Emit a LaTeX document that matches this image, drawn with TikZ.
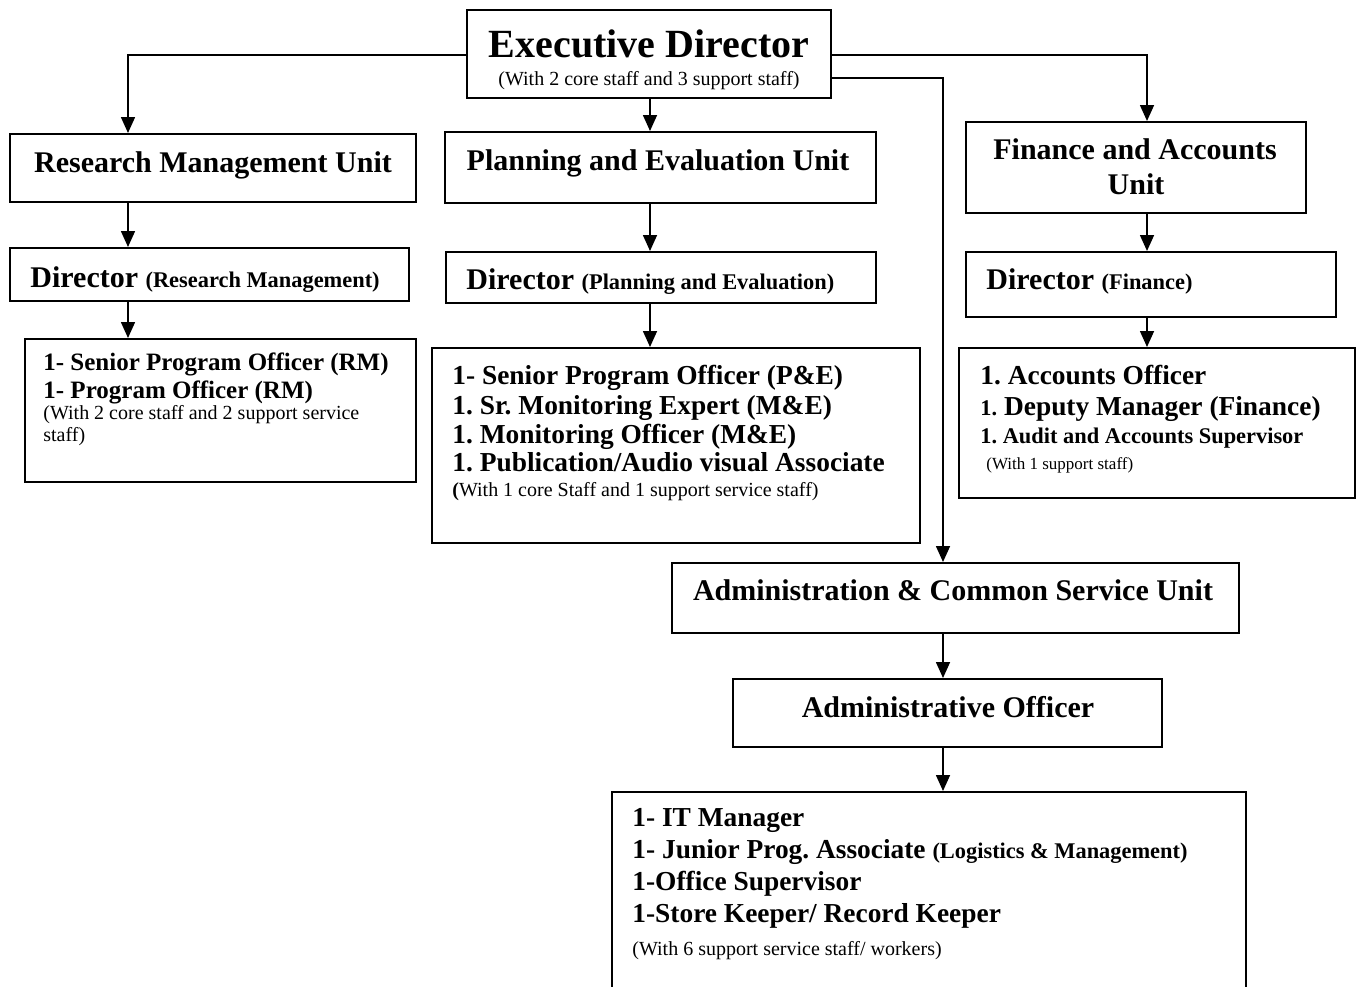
\documentclass[tikz,border=0pt]{standalone}
\usepackage{fontspec}
\setmainfont{Liberation Serif}
\usetikzlibrary{arrows.meta,fit}
\frenchspacing

\newcommand{\fsed}{\fontsize{20}{24}\selectfont\bfseries}
\newcommand{\fsunit}{\fontsize{15}{18}\selectfont\bfseries}
\newcommand{\fspar}{\fontsize{11.2}{13}\selectfont\bfseries}
\newcommand{\fsnote}{\fontsize{10}{12}\selectfont\mdseries}
\newcommand{\fsrm}{\fontsize{12.5}{15}\selectfont\bfseries}
\newcommand{\fsstaff}{\fontsize{13.7}{16}\selectfont\bfseries}
\newcommand{\fssmall}{\fontsize{8.5}{10}\selectfont\mdseries}

\tikzset{
  box/.style={draw, line width=1pt, inner sep=0pt},
  txt/.style={inner sep=0pt, anchor=base west},
  ctxt/.style={inner sep=0pt, anchor=base},
  link/.style={draw, line width=0.8pt, -{Triangle[length=8pt,width=7pt]}}
}

\begin{document}
\begin{tikzpicture}[x=0.5pt,y=-0.5pt]
\useasboundingbox (0,0) rectangle (1363,986);
\clip (0,0) rectangle (1363,986);

% boxes
\node[box, fit={(467,10) (831,98)}] (ED) {};
\node[box, fit={(10,134) (416,202)}] (RMU) {};
\node[box, fit={(445,132) (876,203)}] (PEU) {};
\node[box, fit={(966,122) (1306,213)}] (FAU) {};
\node[box, fit={(10,248) (409,301)}] (DRM) {};
\node[box, fit={(446,252) (876,303)}] (DPE) {};
\node[box, fit={(966,252) (1336,317)}] (DF) {};
\node[box, fit={(25,339) (416,482)}] (SRM) {};
\node[box, fit={(432,348) (920,543)}] (SPE) {};
\node[box, fit={(959,348) (1355,498)}] (SF) {};
\node[box, fit={(672,563) (1239,633)}] (ACS) {};
\node[box, fit={(733,679) (1162,747)}] (AO) {};
\node[box, fit={(612,792) (1246,1010)}] (SAD) {};

% texts
\node[ctxt, font=\fsed] (EDa) at (649,57) {Executive Director};
\node[ctxt, font=\fsnote] (EDb) at (649,85) {(With 2 core staff and 3 support staff)};
\node[ctxt, font=\fsunit] (RMUa) at (213,172) {Research Management Unit};
\node[ctxt, font=\fsunit] (PEUa) at (658,170) {Planning and Evaluation Unit};
\node[ctxt, font=\fsunit] (FAUa) at (1135,159) {Finance and Accounts};
\node[ctxt, font=\fsunit] (FAUb) at (1136,194) {Unit};
\node[txt, font=\fsunit] (DRMa) at (30,287) {Director {\fspar(Research Management)}};
\node[txt, font=\fsunit] (DPEa) at (466,289) {Director {\fspar(Planning and Evaluation)}};
\node[txt, font=\fsunit] (DFa) at (986,289) {Director {\fspar(Finance)}};

\node[txt, font=\fsrm] (SRMa) at (43,370) {1- Senior Program Officer (RM)};
\node[txt, font=\fsrm] (SRMb) at (43,398) {1- Program Officer (RM)};
\node[txt, font=\fsnote] (SRMc) at (43,419) {(With 2 core staff and 2 support service};
\node[txt, font=\fsnote] (SRMd) at (43,441) {staff)};

\node[txt, font=\fsstaff] (SPEa) at (452,384) {1- Senior Program Officer (P\&E)};
\node[txt, font=\fsstaff] (SPEb) at (452,414) {1. Sr. Monitoring Expert (M\&E)};
\node[txt, font=\fsstaff] (SPEc) at (452,443) {1. Monitoring Officer (M\&E)};
\node[txt, font=\fsstaff] (SPEd) at (452,471) {1. Publication/Audio visual Associate};
\node[txt, font=\fsnote] (SPEe) at (452,496) {{\bfseries(}With 1 core Staff and 1 support service staff)};

\node[txt, font=\fsstaff] (SFa) at (980,384) {1. Accounts Officer};
\node[txt, font=\fsstaff] (SFb) at (980,415) {{\fspar 1.} Deputy Manager (Finance)};
\node[txt, font=\fspar] (SFc) at (980,443) {1. Audit and Accounts Supervisor};
\node[txt, font=\fssmall] (SFd) at (986,469) {(With 1 support staff)};

\node[ctxt, font=\fsunit] (ACSa) at (953,600) {Administration \& Common Service Unit};
\node[ctxt, font=\fsunit] (AOa) at (948,717) {Administrative Officer};

\node[txt, font=\fsstaff] (SADa) at (632,826) {1- IT Manager};
\node[txt, font=\fsstaff] (SADb) at (632,858) {1- Junior Prog. Associate {\fspar(Logistics \& Management)}};
\node[txt, font=\fsstaff] (SADc) at (632,890) {1-Office Supervisor};
\node[txt, font=\fsstaff] (SADd) at (632,922) {1-Store Keeper/ Record Keeper};
\node[txt, font=\fsnote] (SADe) at (632,955) {(With 6 support service staff/ workers)};

% columns of the connectors
\coordinate (cA) at (128,55);
\coordinate (cB) at (650,55);
\coordinate (cC) at (943,78);
\coordinate (cD) at (1147,55);

\draw[link] (ED.west |- cA) -| (RMU.north -| cA);
\draw[link] (ED.south -| cB) -- (PEU.north -| cB);
\draw[link] (ED.east |- cD) -| (FAU.north -| cD);
\draw[link] (ED.east |- cC) -| (ACS.north -| cC);

\draw[link] (RMU.south -| cA) -- (DRM.north -| cA);
\draw[link] (DRM.south -| cA) -- (SRM.north -| cA);
\draw[link] (PEU.south -| cB) -- (DPE.north -| cB);
\draw[link] (DPE.south -| cB) -- (SPE.north -| cB);
\draw[link] (FAU.south -| cD) -- (DF.north -| cD);
\draw[link] (DF.south -| cD) -- (SF.north -| cD);
\draw[link] (ACS.south -| cC) -- (AO.north -| cC);
\draw[link] (AO.south -| cC) -- (SAD.north -| cC);
\end{tikzpicture}
\end{document}
